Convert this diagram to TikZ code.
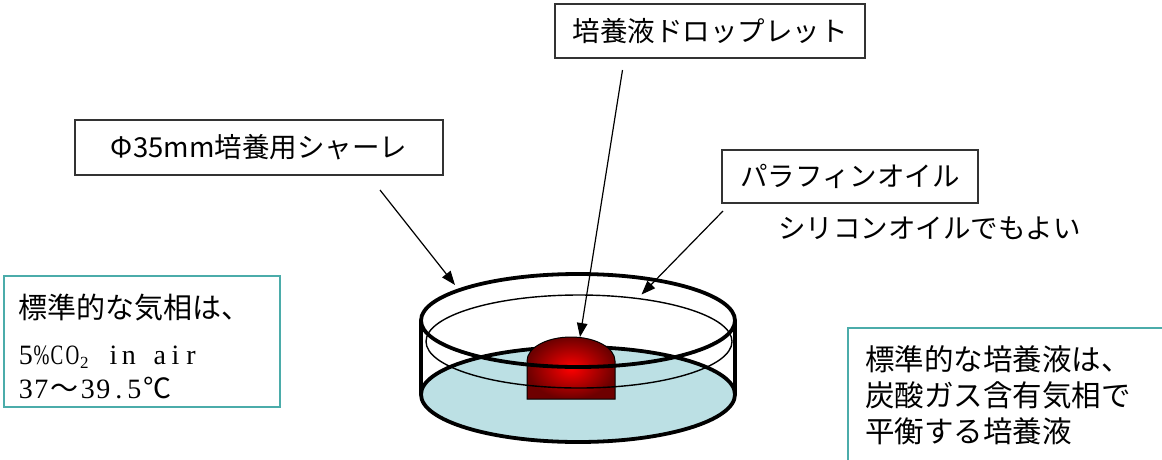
\documentclass[tikz,border=0pt]{standalone}
\usepackage{fontspec}
\usepackage{graphicx}
\usetikzlibrary{arrows.meta}
\newfontfamily\jp{Noto Sans CJK JP}
\newfontfamily\latserif{Liberation Serif}
\definecolor{medium}{RGB}{188,224,228}
\definecolor{tealline}{RGB}{75,172,170}
\definecolor{dropcore}{RGB}{255,0,0}
\definecolor{dropedge}{RGB}{110,0,0}
% half-width and full-width character cells
\newcommand\hcell[1]{\makebox[15.5pt][c]{#1}}
\newcommand\ncell[1]{\makebox[15.5pt][c]{\scalebox{0.68}[1]{#1}}}
\newcommand\fcell[1]{\makebox[31pt][c]{#1}}

\begin{document}
\begin{tikzpicture}[x=1pt,y=-1pt,
  label box/.style={draw=black!80, line width=1.1pt, inner sep=0pt,
    font=\jp\fontsize{27.5}{33}\selectfont},
  plain text/.style={inner sep=0pt, font=\jp\fontsize{27.5}{33}\selectfont},
  note box/.style={draw=tealline, line width=1.8pt, inner sep=0pt, anchor=north west},
  note line/.style={anchor=base west, inner sep=0pt, font=\jp\fontsize{29.5}{36}\selectfont},
  serif line/.style={anchor=base west, inner sep=0pt, font=\latserif\fontsize{28}{28}\selectfont},
  pointer/.style={line width=1.2pt, -{Triangle[length=14pt,width=10.5pt]}},
  wall/.style={line width=3.8pt},
]
\useasboundingbox (0,0) rectangle (1162,459);

% ---- labels ----
\node[label box, minimum width=310pt, minimum height=54pt] (droplet) at (710,31) {培養液ドロップレット};
\node[label box, minimum width=368pt, minimum height=55pt] (dish) at (259,147.5) {Φ35mm培養用シャーレ};
\node[label box, minimum width=256pt, minimum height=53pt] (paraffin) at (850,176.5) {パラフィンオイル};
\node[plain text, anchor=west] (silicone) at (778,228.5) {シリコンオイルでもよい};

% ---- gas phase note ----
\node[note box, minimum width=276pt, minimum height=131pt] (gasbox) at (3,275) {};
\node[note line, font=\jp\fontsize{29}{36}\selectfont] (gas1) at (18,318.5) {標準的な気相は、};
\node[serif line] (gas2) at (18,364) {\hcell{5}\ncell{\%}\ncell{C}\ncell{O}\raisebox{-4pt}{\makebox[10pt][l]{\fontsize{17}{17}\selectfont 2}}\hcell{}\hcell{i}\hcell{n}\hcell{}\hcell{a}\hcell{i}\hcell{r}};
\node[serif line] (gas3) at (18,398) {\hcell{3}\hcell{7}\fcell{\jp 〜}\hcell{3}\hcell{9}\hcell{.}\hcell{5}\fcell{\jp ℃}};

% ---- culture medium note ----
\node[note box, minimum width=340pt, minimum height=160pt] (mediumbox) at (847,327) {};
\node[note line] (med1) at (865,370.5) {標準的な培養液は、};
\node[note line] (med2) at (865,406) {炭酸ガス含有気相で};
\node[note line] (med3) at (865,442) {平衡する培養液};

% ---- dish: medium layer, walls, droplet, oil surface, rim ----
\fill[medium] (578,394.5) ellipse [x radius=157pt, y radius=47.5pt];
\draw[wall] (578,394.5) ellipse [x radius=157pt, y radius=47.5pt];
\draw[wall] (421,320.5) -- (421,394.5);
\draw[wall] (735,320.5) -- (735,394.5);
\shadedraw[inner color=dropcore, outer color=dropedge, draw=black, line width=1pt]
  (527,399) -- (527,361)
  .. controls (527,347.7) and (546.7,337) .. (571,337)
  .. controls (595.3,337) and (615,347.7) .. (615,361)
  -- (615,399) -- cycle;
\draw[line width=1.4pt] (579,341.5) ellipse [x radius=153pt, y radius=46.5pt];
\draw[wall] (578,320.5) ellipse [x radius=157pt, y radius=46.5pt];

% ---- pointers ----
\coordinate (dishtail) at (380,190);
\coordinate (dishtip) at (455,285);
\coordinate (droptail) at (622.5,70);
\coordinate (droptip) at (580,337);
\coordinate (oiltail) at (723,211);
\coordinate (oiltip) at (641.5,294.5);
\draw[pointer] (dishtail) -- (dishtip);
\draw[pointer] (droptail) -- (droptip);
\draw[pointer] (oiltail) -- (oiltip);
\end{tikzpicture}
\end{document}
